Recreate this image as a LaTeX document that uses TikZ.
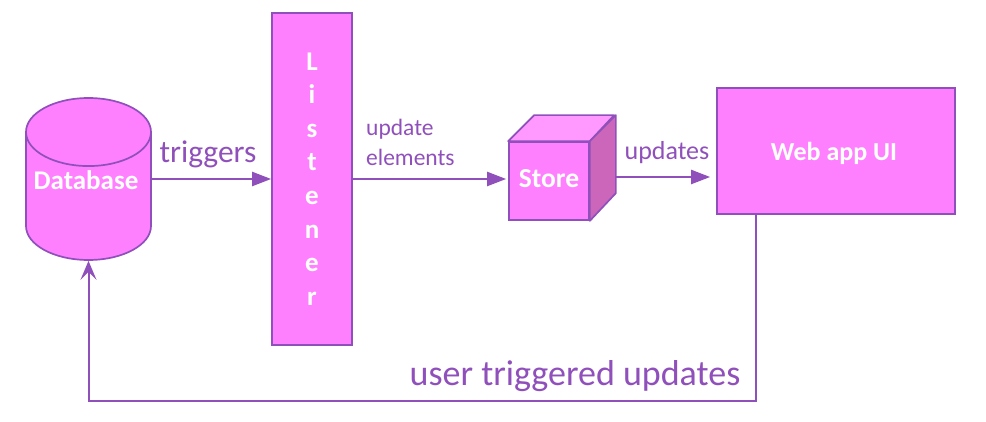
\documentclass[tikz,border=0pt]{standalone}
\usepackage{fontspec}
\setmainfont{Carlito}
\usetikzlibrary{arrows.meta,calc,shapes.geometric}
\definecolor{boxfill}{HTML}{FF80FF}
\definecolor{boxline}{HTML}{9050BB}
\definecolor{cubetop}{HTML}{FF99FF}
\definecolor{cubeside}{HTML}{CC66BB}
\tikzset{
>={Stealth[length=19pt,width=14pt,inset=0pt]},
main box/.style={draw=boxline,fill=boxfill,line width=1.7pt,text=white,font=\bfseries\fontsize{27}{27}\selectfont,inner sep=0pt},
box text/.style={text=white,inner sep=0pt,font=\bfseries\fontsize{27}{27}\selectfont},
freccia/.style={->,draw=boxline,line width=2.2pt},
ritorno/.style={freccia,line width=2pt,-{Stealth[length=19pt,width=16pt,inset=8pt]}},
etichetta/.style={text=boxline,inner sep=0pt,font=\fontsize{23.5}{30}\selectfont}}

\begin{document}
\begin{tikzpicture}[x=1pt,y=-1pt]
\useasboundingbox (0,0) rectangle (986,422);

\node[main box,cylinder,shape border rotate=90,aspect=0.65,minimum width=125pt,minimum height=162pt,anchor=shape center] (db) at (88.5,179) {\phantom{Database}};
\node[main box,minimum width=80pt,minimum height=332pt,align=center,font=\bfseries\fontsize{27}{33.6}\selectfont] (listener) at (312,179) {L\\i\\s\\t\\e\\n\\e\\r};
\node[main box,minimum width=80pt,minimum height=78pt] (store) at (549,181) {};
\node[main box,minimum width=238pt,minimum height=126pt] (web) at (836,151) {};

% faces of the cube
\filldraw[draw=boxline,fill=cubetop,line width=1.7pt,line join=round] (store.north west) -- ++(26,-26) -- ++(80,0) -- (store.north east) -- cycle;
\filldraw[draw=boxline,fill=cubeside,line width=1.7pt,line join=round] (store.north east) -- ++(26,-26) -- ++(0,78) -- (store.south east) -- cycle;
\coordinate (storeside) at ($(store.east)+(26,-4)$);
\coordinate (webin) at ($(web.west)+(-6,26)$);
\coordinate (webout) at ($(web.south west)+(40,0)$);
\coordinate (corner) at (db.south |- 0,401);

\node[box text] (dbtext) at (86,180) {Database};
\node[box text,font=\bfseries\fontsize{27.5}{27}\selectfont] (storetext) at (549,179) {Store};
\node[box text,font=\bfseries\fontsize{26}{26}\selectfont] (webtext) at (834,153) {Web app UI};

\draw[freccia] (db.east |- listener.west) -- (listener.west);
\draw[freccia] (listener.east) -- ($(store.west)+(-2,-2)$);
\draw[freccia] (storeside) -- (webin);
\draw[ritorno] (webout) |- (corner) -- (db.south);

\node[etichetta,font=\fontsize{31.5}{32}\selectfont] (triggers) at (208,154) {triggers};
\node[etichetta,align=left,anchor=west] (updel) at (366,142) {update\\elements};
\node[etichetta,font=\fontsize{26}{26}\selectfont] (updates) at (667,153) {updates};
\node[etichetta,font=\fontsize{36}{36}\selectfont] (usertrig) at (575,376) {user triggered updates};

\end{tikzpicture}
\end{document}
